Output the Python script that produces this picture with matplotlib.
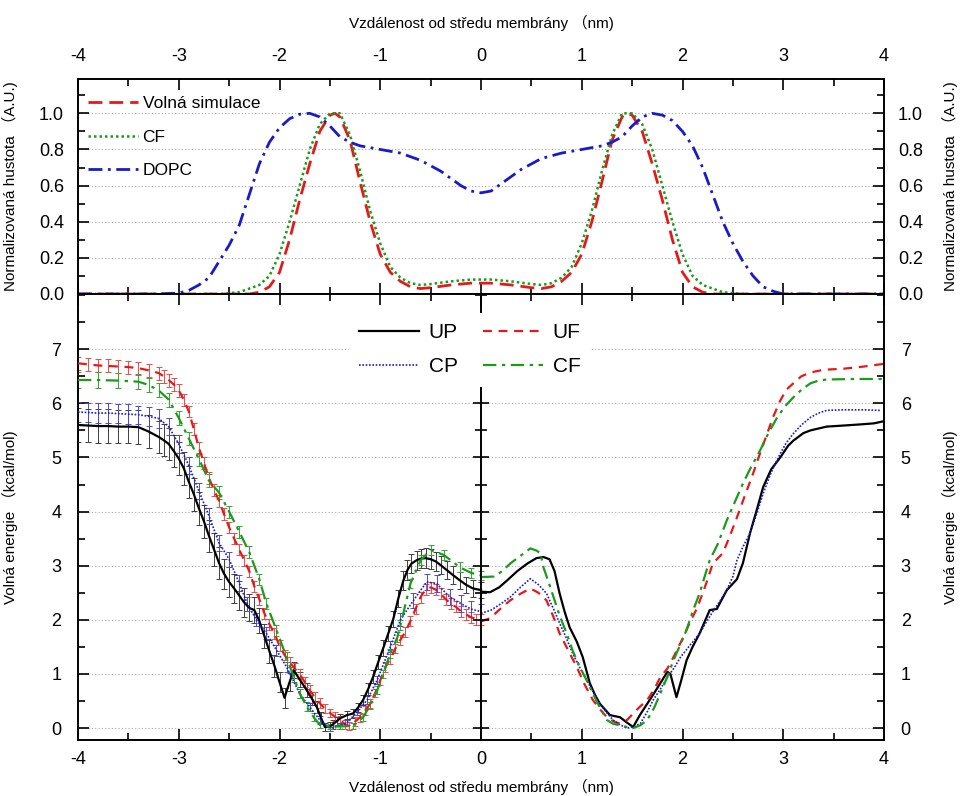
import numpy as np
import matplotlib
matplotlib.use("Agg")
import matplotlib.pyplot as plt
from matplotlib.ticker import MultipleLocator, FormatStrFormatter
from matplotlib.lines import Line2D

plt.rcParams['font.family'] = ['Liberation Sans', 'Noto Sans CJK SC', 'DejaVu Sans']
plt.rcParams['axes.unicode_minus'] = False

# ---------------- top panel: normalised densities ----------------
dopc_x = [-4.0, -3.2, -3.0, -2.9, -2.8, -2.7, -2.6, -2.5, -2.4, -2.3, -2.2, -2.1, -2.0, -1.9, -1.8, -1.7,
          -1.6, -1.5, -1.4, -1.3, -1.2, -1.0, -0.8, -0.6, -0.4, -0.2, -0.1, 0.0, 0.1, 0.2, 0.4, 0.6, 0.8,
          1.0, 1.2, 1.3, 1.4, 1.5, 1.6, 1.7, 1.8, 1.9, 2.0, 2.1, 2.2, 2.3, 2.4, 2.5, 2.6, 2.7, 2.8, 2.9,
          3.0, 3.2, 4.0]
dopc_y = [0.0, 0.0, 0.005, 0.02, 0.05, 0.09, 0.18, 0.27, 0.38, 0.55, 0.72, 0.84, 0.92, 0.97, 0.995, 1.0,
          0.98, 0.93, 0.87, 0.84, 0.82, 0.80, 0.78, 0.74, 0.68, 0.60, 0.57, 0.56, 0.57, 0.61, 0.69, 0.75, 0.78,
          0.80, 0.82, 0.84, 0.87, 0.93, 0.98, 1.0, 0.99, 0.96, 0.90, 0.82, 0.70, 0.55, 0.40, 0.28, 0.18, 0.10,
          0.04, 0.015, 0.0, 0.0, 0.0]

sim_x = [-4.0, -2.3, -2.2, -2.1, -2.0, -1.9, -1.8, -1.7, -1.6, -1.5, -1.45, -1.4, -1.3, -1.2, -1.1, -1.0,
         -0.9, -0.8, -0.7, -0.6, -0.5, -0.3, -0.1, 0.0, 0.1, 0.3, 0.5, 0.6, 0.7, 0.8, 0.9, 1.0, 1.1, 1.2,
         1.3, 1.4, 1.45, 1.5, 1.6, 1.7, 1.8, 1.9, 2.0, 2.1, 2.2, 2.3, 4.0]
sim_y = [0.0, 0.0, 0.01, 0.04, 0.12, 0.30, 0.52, 0.72, 0.90, 0.99, 1.0, 0.98, 0.85, 0.62, 0.40, 0.22,
         0.12, 0.07, 0.04, 0.03, 0.035, 0.05, 0.06, 0.06, 0.06, 0.05, 0.035, 0.03, 0.04, 0.07, 0.12, 0.22, 0.40, 0.62,
         0.85, 0.98, 1.0, 0.99, 0.90, 0.72, 0.52, 0.30, 0.12, 0.04, 0.01, 0.0, 0.0]

cfd_x = [-4.0, -2.6, -2.4, -2.2, -2.1, -2.0, -1.9, -1.8, -1.7, -1.6, -1.5, -1.4, -1.3, -1.2, -1.1, -1.0,
         -0.9, -0.8, -0.7, -0.6, -0.5, -0.3, -0.1, 0.0, 0.1, 0.3, 0.5, 0.6, 0.7, 0.8, 0.9, 1.0, 1.1, 1.2,
         1.3, 1.4, 1.5, 1.6, 1.7, 1.8, 1.9, 2.0, 2.1, 2.2, 2.4, 2.6, 4.0]
cfd_y = [0.0, 0.0, 0.01, 0.05, 0.10, 0.22, 0.40, 0.60, 0.80, 0.94, 1.0, 1.0, 0.88, 0.68, 0.46, 0.28,
         0.15, 0.09, 0.06, 0.05, 0.055, 0.07, 0.08, 0.08, 0.08, 0.07, 0.055, 0.05, 0.06, 0.09, 0.15, 0.28, 0.46, 0.68,
         0.88, 1.0, 1.0, 0.94, 0.80, 0.60, 0.40, 0.22, 0.10, 0.05, 0.01, 0.0, 0.0]

# ---------------- bottom panel: free energy, left half (with errors) ----------------
up_lx = [-4.0, -3.9, -3.8, -3.7, -3.6, -3.5, -3.4, -3.3, -3.2, -3.15, -3.1, -3.05, -3.0, -2.95, -2.9,
         -2.85, -2.8, -2.75, -2.7, -2.65, -2.6, -2.55, -2.5, -2.45, -2.4, -2.35, -2.3, -2.25, -2.2, -2.15,
         -2.1, -2.05, -2.0, -1.95, -1.9, -1.86, -1.8, -1.73, -1.68, -1.63, -1.59, -1.55, -1.5, -1.47, -1.43,
         -1.4, -1.33, -1.27, -1.22, -1.17, -1.12, -1.07, -1.02, -0.97, -0.92, -0.87, -0.82, -0.77, -0.73,
         -0.69, -0.64, -0.6, -0.55, -0.5, -0.45, -0.4, -0.34, -0.28, -0.21, -0.15, -0.08, 0.0]
up_ly = [5.60, 5.59, 5.58, 5.58, 5.57, 5.57, 5.56, 5.48, 5.38, 5.32, 5.25, 5.12, 4.98, 4.80, 4.55,
         4.32, 4.06, 3.82, 3.55, 3.30, 3.05, 2.85, 2.70, 2.58, 2.45, 2.32, 2.22, 2.18, 1.98, 1.70,
         1.42, 1.15, 0.85, 0.56, 0.85, 1.07, 0.90, 0.70, 0.55, 0.39, 0.20, 0.02, 0.03, 0.07, 0.13,
         0.18, 0.24, 0.27, 0.38, 0.52, 0.72, 0.95, 1.22, 1.48, 1.75, 2.02, 2.40, 2.73, 2.92,
         3.04, 3.10, 3.13, 3.14, 3.12, 3.08, 3.01, 2.92, 2.83, 2.73, 2.65, 2.58, 2.55]
up_le = [0.31, 0.31, 0.31, 0.31, 0.31, 0.31, 0.31, 0.31, 0.30, 0.30, 0.30, 0.30, 0.30, 0.30, 0.30,
         0.30, 0.30, 0.30, 0.30, 0.30, 0.29, 0.28, 0.27, 0.27, 0.26, 0.26, 0.25, 0.24, 0.23, 0.22,
         0.21, 0.20, 0.19, 0.18, 0.16, 0.15, 0.14, 0.13, 0.12, 0.11, 0.10, 0.08, 0.08, 0.08, 0.08,
         0.08, 0.08, 0.08, 0.09, 0.10, 0.11, 0.12, 0.13, 0.14, 0.14, 0.15, 0.16, 0.17, 0.18,
         0.18, 0.18, 0.18, 0.18, 0.18, 0.18, 0.17, 0.17, 0.16, 0.16, 0.15, 0.15, 0.15]

uf_lx = [-4.0, -3.9, -3.8, -3.7, -3.6, -3.5, -3.4, -3.3, -3.2, -3.15, -3.1, -3.05, -3.0, -2.95, -2.9,
         -2.85, -2.8, -2.75, -2.7, -2.65, -2.6, -2.55, -2.5, -2.45, -2.4, -2.35, -2.3, -2.25, -2.2, -2.15,
         -2.1, -2.05, -2.0, -1.95, -1.9, -1.85, -1.8, -1.75, -1.7, -1.65, -1.6, -1.55, -1.5, -1.45, -1.4,
         -1.35, -1.31, -1.25, -1.2, -1.15, -1.1, -1.05, -1.0, -0.95, -0.9, -0.85, -0.8, -0.75, -0.7,
         -0.65, -0.6, -0.55, -0.5, -0.45, -0.4, -0.35, -0.3, -0.25, -0.2, -0.15, -0.1, -0.05, 0.0]
uf_ly = [6.74, 6.72, 6.70, 6.69, 6.68, 6.67, 6.65, 6.61, 6.56, 6.50, 6.43, 6.35, 6.24, 6.07, 5.85,
         5.52, 5.18, 4.90, 4.62, 4.40, 4.20, 3.95, 3.71, 3.50, 3.30, 3.10, 2.90, 2.62, 2.38, 2.12,
         1.92, 1.75, 1.52, 1.35, 1.22, 1.10, 1.00, 0.85, 0.70, 0.57, 0.46, 0.36, 0.28, 0.21, 0.15,
         0.07, 0.04, 0.12, 0.20, 0.32, 0.45, 0.65, 0.88, 1.13, 1.28, 1.47, 1.63, 1.78, 1.98,
         2.20, 2.42, 2.56, 2.60, 2.56, 2.48, 2.38, 2.30, 2.24, 2.16, 2.10, 2.05, 2.01, 2.00]
uf_le = [0.12, 0.12, 0.12, 0.12, 0.12, 0.12, 0.12, 0.12, 0.12, 0.12, 0.12, 0.12, 0.12, 0.11, 0.11,
         0.11, 0.11, 0.11, 0.11, 0.11, 0.11, 0.11, 0.10, 0.10, 0.10, 0.10, 0.10, 0.10, 0.10, 0.10,
         0.10, 0.10, 0.10, 0.10, 0.10, 0.10, 0.10, 0.09, 0.09, 0.09, 0.09, 0.08, 0.08, 0.08, 0.08,
         0.08, 0.08, 0.08, 0.08, 0.08, 0.08, 0.08, 0.08, 0.09, 0.09, 0.09, 0.09, 0.09, 0.10,
         0.10, 0.10, 0.10, 0.10, 0.10, 0.10, 0.10, 0.10, 0.10, 0.10, 0.10, 0.10, 0.10, 0.10]

cp_lx = [-4.0, -3.9, -3.8, -3.7, -3.6, -3.5, -3.4, -3.3, -3.2, -3.1, -3.0, -2.9, -2.8, -2.7, -2.6, -2.5,
         -2.4, -2.32, -2.23, -2.13, -2.03, -1.93, -1.8, -1.7, -1.6, -1.5, -1.4, -1.33, -1.23, -1.13, -1.03,
         -0.9, -0.8, -0.67, -0.54, -0.44, -0.31, -0.2, -0.1, 0.0]
cp_ly = [5.84, 5.83, 5.82, 5.82, 5.81, 5.80, 5.79, 5.76, 5.72, 5.57, 5.25, 4.85, 4.38, 3.92, 3.42, 3.12,
         2.68, 2.30, 2.00, 1.75, 1.44, 1.13, 0.64, 0.39, 0.15, 0.00, 0.04, 0.10, 0.30, 0.52, 0.89,
         1.50, 2.00, 2.36, 2.70, 2.67, 2.42, 2.30, 2.20, 2.15]
cp_le = [0.18, 0.18, 0.18, 0.18, 0.18, 0.18, 0.17, 0.17, 0.17, 0.16, 0.16, 0.16, 0.15, 0.15, 0.15, 0.14,
         0.14, 0.13, 0.12, 0.11, 0.10, 0.10, 0.09, 0.08, 0.07, 0.06, 0.05, 0.05, 0.06, 0.07, 0.08,
         0.10, 0.12, 0.14, 0.15, 0.15, 0.15, 0.15, 0.15, 0.15]

cf_lx = [-4.0, -3.8, -3.6, -3.4, -3.3, -3.2, -3.1, -3.0, -2.9, -2.8, -2.7, -2.6, -2.5, -2.4, -2.3, -2.2,
         -2.13, -2.03, -1.93, -1.86, -1.8, -1.73, -1.66, -1.6, -1.5, -1.4, -1.27, -1.17, -1.1, -1.03, -0.97,
         -0.9, -0.83, -0.8, -0.7, -0.6, -0.5, -0.37, -0.21, -0.1, 0.0]
cf_ly = [6.43, 6.43, 6.42, 6.40, 6.34, 6.24, 6.07, 5.73, 5.35, 4.97, 4.57, 4.35, 4.00, 3.63, 3.25, 2.75,
         2.30, 1.81, 1.31, 0.95, 0.64, 0.40, 0.20, 0.06, 0.03, 0.03, 0.04, 0.20, 0.42, 0.70, 1.00,
         1.38, 1.68, 1.90, 2.67, 3.10, 3.29, 3.20, 2.97, 2.87, 2.82]
cf_le = [0.14, 0.14, 0.14, 0.14, 0.13, 0.13, 0.13, 0.13, 0.12, 0.12, 0.12, 0.12, 0.11, 0.11, 0.11, 0.10,
         0.10, 0.10, 0.09, 0.09, 0.08, 0.08, 0.07, 0.06, 0.05, 0.05, 0.05, 0.06, 0.06, 0.07, 0.08,
         0.08, 0.09, 0.09, 0.09, 0.09, 0.09, 0.09, 0.09, 0.09, 0.09]

# ---------------- bottom panel: right half (no errors) ----------------
up_rx = [0.0, 0.09, 0.18, 0.26, 0.36, 0.46, 0.55, 0.62, 0.68, 0.73, 0.78, 0.83, 0.88, 0.95, 1.01, 1.08,
         1.13, 1.18, 1.28, 1.38, 1.45, 1.51, 1.58, 1.65, 1.72, 1.78, 1.85, 1.88, 1.94, 1.99, 2.04, 2.1,
         2.17, 2.27, 2.34, 2.44, 2.54, 2.6, 2.67, 2.74, 2.8, 2.88, 2.97, 3.05, 3.1, 3.2, 3.27, 3.43, 3.6,
         3.76, 3.9, 4.0]
up_ry = [2.52, 2.51, 2.60, 2.73, 2.90, 3.04, 3.14, 3.16, 3.12, 2.90, 2.49, 2.15, 1.86, 1.60, 1.31, 0.83,
         0.62, 0.45, 0.24, 0.20, 0.10, 0.02, 0.25, 0.45, 0.65, 0.83, 1.04, 1.00, 0.57, 0.90, 1.25, 1.50,
         1.75, 2.18, 2.20, 2.55, 2.75, 3.05, 3.60, 4.05, 4.45, 4.78, 5.00, 5.22, 5.31, 5.45, 5.50, 5.57, 5.59,
         5.61, 5.63, 5.67]

uf_rx = [0.0, 0.09, 0.19, 0.29, 0.39, 0.49, 0.57, 0.65, 0.72, 0.78, 0.87, 0.95, 1.03, 1.11, 1.18, 1.25,
         1.32, 1.38, 1.45, 1.51, 1.58, 1.65, 1.72, 1.78, 1.85, 1.91, 2.0, 2.07, 2.14, 2.2, 2.25, 2.3,
         2.4, 2.47, 2.54, 2.62, 2.7, 2.77, 2.84, 2.9, 2.97, 3.03, 3.1, 3.18, 3.27, 3.4, 3.6, 3.8, 4.0]
uf_ry = [1.97, 2.03, 2.20, 2.36, 2.48, 2.58, 2.50, 2.36, 2.05, 1.75, 1.42, 1.13, 0.80, 0.52, 0.35, 0.20,
         0.12, 0.08, 0.15, 0.27, 0.40, 0.52, 0.72, 0.94, 1.10, 1.31, 1.65, 1.94, 2.20, 2.49, 2.75, 3.04,
         3.23, 3.55, 3.89, 4.30, 4.70, 5.08, 5.44, 5.75, 6.05, 6.25, 6.37, 6.50, 6.57, 6.62, 6.64, 6.68, 6.73]

cp_rx = [0.0, 0.1, 0.2, 0.29, 0.39, 0.49, 0.57, 0.65, 0.72, 0.78, 0.85, 0.91, 0.98, 1.05, 1.12, 1.18,
         1.25, 1.31, 1.38, 1.45, 1.52, 1.58, 1.65, 1.71, 1.78, 1.85, 1.92, 1.98, 2.07, 2.17, 2.24, 2.31,
         2.38, 2.44, 2.5, 2.54, 2.6, 2.67, 2.74, 2.8, 2.88, 2.97, 3.03, 3.1, 3.18, 3.27, 3.35, 3.43, 3.6,
         3.8, 3.96]
cp_ry = [2.12, 2.18, 2.30, 2.42, 2.60, 2.76, 2.65, 2.49, 2.20, 1.94, 1.65, 1.38, 1.12, 0.88, 0.65, 0.45,
         0.28, 0.15, 0.06, 0.00, 0.03, 0.08, 0.30, 0.52, 0.72, 0.94, 1.12, 1.31, 1.52, 1.75, 1.97, 2.18,
         2.37, 2.55, 2.80, 3.10, 3.35, 3.60, 3.98, 4.33, 4.72, 5.07, 5.27, 5.44, 5.60, 5.74, 5.82, 5.87, 5.88,
         5.88, 5.87]

cf_rx = [0.0, 0.13, 0.21, 0.29, 0.39, 0.49, 0.55, 0.59, 0.62, 0.67, 0.72, 0.78, 0.85, 0.91, 0.98, 1.05,
         1.11, 1.18, 1.25, 1.31, 1.38, 1.45, 1.51, 1.58, 1.65, 1.72, 1.78, 1.85, 1.91, 1.98, 2.04, 2.1,
         2.17, 2.22, 2.27, 2.35, 2.44, 2.52, 2.6, 2.68, 2.77, 2.85, 2.94, 3.02, 3.1, 3.18, 3.27, 3.35, 3.43,
         3.7, 4.0]
cf_ry = [2.79, 2.80, 2.90, 3.04, 3.18, 3.32, 3.28, 3.23, 2.97, 2.70, 2.42, 2.08, 1.75, 1.43, 1.13, 0.88,
         0.64, 0.38, 0.15, 0.08, 0.05, 0.02, 0.00, 0.05, 0.15, 0.38, 0.64, 0.95, 1.25, 1.55, 1.81, 2.15,
         2.49, 2.80, 3.10, 3.40, 3.84, 4.18, 4.52, 4.82, 5.13, 5.44, 5.74, 5.95, 6.11, 6.25, 6.37, 6.42, 6.44,
         6.45, 6.45]

top_xticks = [-4, -3, -2, -1, 0, 1, 2, 3, 4]
top_yticks = [0.0, 0.2, 0.4, 0.6, 0.8, 1.0]
bot_yticks = [0, 1, 2, 3, 4, 5, 6, 7]

RED = '#e31a1c'
GREEN = '#1c9a1c'
BLUE = '#1a1ac8'
BLACK = '#000000'

xlabel = 'Vzdálenost od středu membrány （nm)'

fig = plt.figure(figsize=(9.6, 7.96), dpi=100)
L, W = 78 / 960, 806 / 960
ax_top = fig.add_axes([L, (796 - 294) / 796, W, 215 / 796])
ax = fig.add_axes([L, (796 - 740) / 796, W, 446 / 796])
ax_mid = fig.add_axes([L, (796 - 740) / 796, W, 446 / 796], sharex=ax, sharey=ax)

# ---------- top panel ----------
ax_top.plot(sim_x, sim_y, color=RED, lw=2, dashes=(5, 2.5), label='Volná simulace')
ax_top.plot(cfd_x, cfd_y, color=GREEN, lw=1.8, dashes=(1, 1.2), label='CF')
ax_top.plot(dopc_x, dopc_y, color=BLUE, lw=2, dashes=(5, 2, 1, 2), label='DOPC')
ax_top.set_xlim(-4, 4)
ax_top.set_ylim(0, 1.19)
ax_top.set_yticks(top_yticks)
ax_top.yaxis.set_major_formatter(FormatStrFormatter('%.1f'))
ax_top.yaxis.set_minor_locator(MultipleLocator(0.1))
ax_top.set_xticks(top_xticks)
ax_top.xaxis.set_minor_locator(MultipleLocator(0.5))
ax_top.grid(axis='y', which='major', color='#a8a8a8', ls=(0, (1, 2)), lw=0.8)
ax_top.tick_params(axis='both', which='both', direction='in', top=True, right=True, bottom=True, left=True,
                   labeltop=True, labelbottom=False, labelleft=True, labelright=True, labelsize=13, width=1.2)
ax_top.tick_params(axis='both', which='major', length=8)
ax_top.tick_params(axis='both', which='minor', length=5)
ax_top.tick_params(axis='x', pad=10)
ax_top.tick_params(axis='y', pad=10)
ax_top.set_xlabel(xlabel, fontsize=11)
ax_top.xaxis.set_label_position('top')
ax_top.xaxis.set_label_coords(0.5, 1.235)
ax_top.set_ylabel('Normalizovaná hustota （A.U.)', fontsize=11)
ax_top.yaxis.set_label_coords(-0.074, 0.5)
ax_top.text(1.082, 0.5, 'Normalizovaná hustota （A.U.)', transform=ax_top.transAxes, rotation=90,
            ha='center', va='center', fontsize=11)
for s in ax_top.spines.values():
    s.set_linewidth(1.4)
ax_top.legend(loc='upper left', bbox_to_anchor=(-0.005, 0.985), frameon=False, fontsize=12.5,
              handlelength=2.9, handletextpad=0.25, labelspacing=1.05, borderaxespad=0.4)

# ---------- bottom panel ----------
series = [
    ('UP', up_lx, up_ly, up_le, up_rx, up_ry, BLACK, '#404040', dict(ls='-', lw=1.6)),
    ('UF', uf_lx, uf_ly, uf_le, uf_rx, uf_ry, RED, '#f04848', dict(dashes=(4, 3), lw=1.6)),
    ('CP', cp_lx, cp_ly, cp_le, cp_rx, cp_ry, BLUE, '#4848e0', dict(dashes=(1, 1), lw=1.2)),
    ('CF', cf_lx, cf_ly, cf_le, cf_rx, cf_ry, GREEN, '#30a830', dict(dashes=(6, 2.5, 1.5, 2.5), lw=1.6)),
]
handles = {}
for name, lx, ly, le, rx, ry, c, ec, style in series:
    ax.errorbar(lx, ly, yerr=le, fmt='none', ecolor=ec, elinewidth=0.7, capsize=2.5, capthick=0.7, zorder=2)
for name, lx, ly, le, rx, ry, c, ec, style in series:
    ax.plot(lx, ly, color=c, zorder=3, **style)
    ax.plot(rx, ry, color=c, zorder=3, **style)
    handles[name] = Line2D([], [], color=c, **style)

ax.set_xlim(-4, 4)
ax.set_ylim(-0.22, 8.02)
ax.set_yticks(bot_yticks)
ax.yaxis.set_minor_locator(MultipleLocator(0.5))
ax.set_xticks(top_xticks)
ax.xaxis.set_minor_locator(MultipleLocator(0.5))
ax.grid(axis='y', which='major', color='#a8a8a8', ls=(0, (1, 2)), lw=0.8)
ax.tick_params(axis='both', which='both', direction='in', top=True, right=True, bottom=True, left=True,
               labeltop=False, labelbottom=True, labelleft=True, labelright=True, labelsize=13, width=1.2)
ax.tick_params(axis='both', which='major', length=8)
ax.tick_params(axis='both', which='minor', length=5)
ax.tick_params(axis='x', pad=8)
ax.tick_params(axis='y', pad=12)
for s in ax.spines.values():
    s.set_linewidth(1.4)
ax.set_xlabel(xlabel, fontsize=11)
ax.xaxis.set_label_coords(0.5, -0.087)
ax.set_ylabel('Volná energie （kcal/mol)', fontsize=11)
ax.yaxis.set_label_coords(-0.074, 0.5)
ax.text(1.082, 0.5, 'Volná energie （kcal/mol)', transform=ax.transAxes, rotation=90,
        ha='center', va='center', fontsize=11)

# middle axis at x = 0
ax_mid.set_facecolor('none')
for k in ['right', 'top', 'bottom']:
    ax_mid.spines[k].set_visible(False)
ax_mid.spines['left'].set_position(('data', 0))
ax_mid.spines['left'].set_linewidth(1.4)
ax_mid.tick_params(axis='y', which='both', direction='inout', left=True, right=False,
                   labelleft=False, labelright=False, width=1.2)
ax_mid.tick_params(axis='y', which='major', length=12)
ax_mid.tick_params(axis='y', which='minor', length=8)
ax_mid.tick_params(axis='x', which='both', bottom=False, top=False, labelbottom=False, labeltop=False)

leg = ax_mid.legend([handles['UP'], handles['CP'], handles['UF'], handles['CF']], ['UP', 'CP', 'UF', 'CF'],
                    ncol=2, loc='center', bbox_to_anchor=(0.486, 0.875), fontsize=15,
                    handlelength=2.9, handletextpad=0.45, columnspacing=1.2, labelspacing=0.72,
                    frameon=True, fancybox=False, borderpad=0.5)
leg.get_frame().set_edgecolor('none')
leg.get_frame().set_facecolor('white')
leg.get_frame().set_alpha(1.0)

fig.savefig('out.png', dpi=100)
